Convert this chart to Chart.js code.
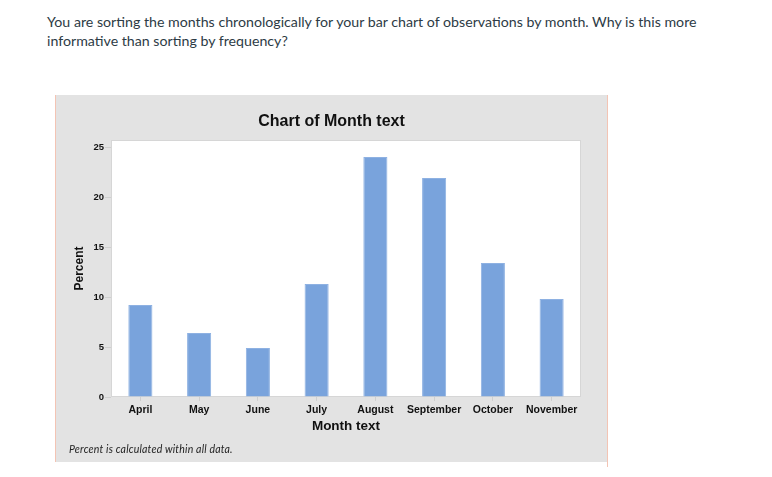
<!DOCTYPE html>
<html>
<head>
<meta charset="utf-8">
<script src="https://cdn.jsdelivr.net/npm/chart.js@4"></script>
<style>
    body { margin: 0; background: #fff; width: 772px; height: 477px; position: relative; overflow: hidden; }
    #question { position: absolute; left: 47px; top: 12px; width: 700px; font-family: Lato, 'Open Sans', sans-serif; font-size: 14.2px; line-height: 19px; color: #2d3b45; }
    #panel { position: absolute; left: 55px; top: 95px; width: 551px; height: 367px; background: #e3e3e3; border-left: 1px solid #f3c4b4; }
    #edge { position: absolute; left: 607px; top: 95px; width: 1px; height: 372px; background: #f3c4b4; }
    #chartBox { position: absolute; left: 1px; top: 0; width: 550px; height: 367px; }
    #title { position: absolute; left: 0; width: 551px; top: 17px; text-align: center; font-family: 'Liberation Sans', Arial, sans-serif; font-weight: bold; font-size: 16px; color: #111; }
    #note { position: absolute; left: 13px; top: 348px; font-family: Lato, 'Open Sans', sans-serif; font-style: italic; font-size: 10.5px; color: #222; letter-spacing: 0.2px; }
</style>
</head>
<body>
<div id="question">You are sorting the months chronologically for your bar chart of observations by month. Why is this more informative than sorting by frequency?</div>
<div id="panel">
    <div id="chartBox"><canvas id="monthChart" width="550" height="367"></canvas></div>
    <div id="title">Chart of Month text</div>
    <div id="note">Percent is calculated within all data.</div>
</div>
<div id="edge"></div>
<script>
const months = ['April', 'May', 'June', 'July', 'August', 'September', 'October', 'November'];
const percentValues = [9.2, 6.4, 4.9, 11.3, 24.0, 21.9, 13.4, 9.8];
const yTicks = [0, 5, 10, 15, 20, 25];

// white plot area with a faint frame, like the Minitab output
const plotBackground = {
    id: 'plotBackground',
    beforeDraw(chart) {
        const { ctx, chartArea: a } = chart;
        ctx.save();
        ctx.fillStyle = '#ffffff';
        ctx.fillRect(a.left, a.top, a.right - a.left, a.bottom - a.top);
        ctx.strokeStyle = '#d6d6d6';
        ctx.lineWidth = 1;
        ctx.strokeRect(a.left + 0.5, a.top + 0.5, a.right - a.left - 1, a.bottom - a.top - 1);
        ctx.restore();
    }
};

const ctx = document.getElementById('monthChart').getContext('2d');
new Chart(ctx, {
    type: 'bar',
    data: {
        labels: months,
        datasets: [{
            label: 'Percent',
            data: percentValues,
            backgroundColor: '#79a3dc',
            borderColor: '#8eb1e2',
            borderWidth: 1,
            categoryPercentage: 1,
            barPercentage: 0.41
        }]
    },
    options: {
        responsive: false,
        animation: false,
        layout: { padding: { left: 0, top: 45, right: 26, bottom: 0 } },
        plugins: { legend: { display: false }, tooltip: { enabled: false } },
        scales: {
            x: {
                afterFit: (s) => { s.height = 65; },
                grid: { drawOnChartArea: false, offset: false, tickLength: 4, color: '#cfcfcf' },
                border: { display: false },
                ticks: { padding: 3, color: '#111', maxRotation: 0, font: { family: "'Liberation Sans', Arial, sans-serif", size: 10.5, weight: 'bold' } },
                title: { display: true, text: 'Month text', color: '#111', padding: { top: 0, bottom: 28 }, font: { family: "'Liberation Sans', Arial, sans-serif", size: 13.5, weight: 'bold' } }
            },
            y: {
                min: 0,
                max: 25.7,
                afterFit: (s) => { s.width = 54; },
                afterBuildTicks: (s) => { s.ticks = yTicks.map((v) => ({ value: v })); },
                grid: { drawOnChartArea: false, tickLength: 6, color: '#cfcfcf' },
                border: { display: false },
                ticks: { padding: 1, color: '#111', font: { family: "'Liberation Sans', Arial, sans-serif", size: 9.5, weight: 'bold' } },
                title: { display: true, text: 'Percent', color: '#111', padding: { top: 15, bottom: 0 }, font: { family: "'Liberation Sans', Arial, sans-serif", size: 12, weight: 'bold' } }
            }
        }
    },
    plugins: [plotBackground]
});
</script>
</body>
</html>
